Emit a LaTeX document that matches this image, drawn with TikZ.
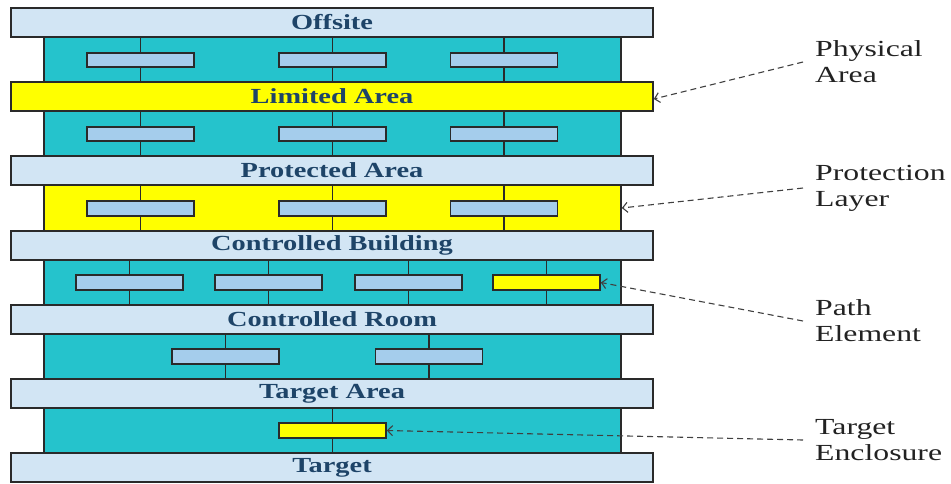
\documentclass[tikz,border=0pt]{standalone}
\usepackage{fontspec}
\usetikzlibrary{arrows.meta}
\newfontfamily\bandfont[FakeStretch=1.32]{Liberation Serif}
\newfontfamily\labfont[FakeStretch=1.38]{Liberation Serif}
\definecolor{bandblue}{HTML}{D2E5F4}
\definecolor{tealc}{HTML}{25C3CC}
\definecolor{elemblue}{HTML}{A5CDEC}
\definecolor{bordc}{HTML}{2A2A2A}
\definecolor{textblue}{HTML}{1E4468}
\definecolor{yel}{HTML}{FFFF00}
\definecolor{arrc}{HTML}{404040}
\definecolor{labc}{HTML}{222222}
\begin{document}
\begin{tikzpicture}[x=1pt,y=-1pt,
  band/.style={draw=bordc, line width=1.6pt, fill=bandblue, minimum width=642pt, minimum height=29pt, inner sep=0pt,
    font=\bandfont\bfseries\fontsize{21.5}{21.5}\selectfont, text=textblue},
  layer/.style={draw=bordc, line width=1.6pt, fill=tealc, minimum width=577pt, minimum height=45pt, inner sep=0pt},
  elem/.style={draw=bordc, line width=1.6pt, fill=elemblue, minimum width=107pt, minimum height=14.5pt, inner sep=0pt},
  vline/.style={draw=bordc, line width=1.6pt},
  lab/.style={anchor=west, align=left, inner xsep=12pt, inner ysep=0pt, text=labc,
    font=\labfont\fontsize{23}{26}\selectfont},
  callout/.style={draw=arrc, line width=1.1pt, dash pattern=on 6pt off 4pt, -{Straight Barb[length=5pt,width=10pt]}}
]
\useasboundingbox (0,0) rectangle (951,483);

% layers
\node[layer] (L1) at (332.5,59.5) {};
\node[layer] (L2) at (332.5,133.5) {};
\node[layer, fill=yel, minimum height=46pt] (L3) at (332.5,208) {};
\node[layer] (L4) at (332.5,282.5) {};
\node[layer] (L5) at (332.5,356.5) {};
\node[layer] (L6) at (332.5,430.5) {};

% elements
\foreach \l/\yy in {1/60,2/134,3/208.5}{
  \node[elem] (e\l a) at (140.5,\yy) {};
  \node[elem] (e\l b) at (332.5,\yy) {};
  \node[elem] (e\l c) at (504,\yy) {};
  \foreach \k in {a,b,c}{
    \draw[vline] (e\l\k.north) -- (e\l\k.north |- L\l.north);
    \draw[vline] (e\l\k.south) -- (e\l\k.south |- L\l.south);
  }
}
\node[elem] (e4a) at (129.5,282.5) {};
\node[elem] (e4b) at (268.5,282.5) {};
\node[elem] (e4c) at (408.5,282.5) {};
\node[elem, fill=yel] (e4d) at (546.5,282.5) {};
\foreach \k in {a,b,c,d}{
  \draw[vline] (e4\k.north) -- (e4\k.north |- L4.north);
  \draw[vline] (e4\k.south) -- (e4\k.south |- L4.south);
}
\node[elem] (e5a) at (225.5,356.5) {};
\node[elem] (e5b) at (429,356.5) {};
\foreach \k in {a,b}{
  \draw[vline] (e5\k.north) -- (e5\k.north |- L5.north);
  \draw[vline] (e5\k.south) -- (e5\k.south |- L5.south);
}
\node[elem, fill=yel] (e6a) at (332.5,430.5) {};
\draw[vline] (e6a.north) -- (e6a.north |- L6.north);
\draw[vline] (e6a.south) -- (e6a.south |- L6.south);

% bands
\node[band] (B1) at (332,22.5) {Offsite};
\node[band, fill=yel] (B2) at (332,96.5) {Limited Area};
\node[band] (B3) at (332,170.5) {Protected Area};
\node[band] (B4) at (332,245.5) {Controlled Building};
\node[band] (B5) at (332,319.5) {Controlled Room};
\node[band] (B6) at (332,393.5) {Target Area};
\node[band] (B7) at (332,467.5) {Target};

% labels
\node[lab] (t1) at (803,62) {Physical\\Area};
\node[lab] (t2) at (803,188) {Protection\\Layer};
\node[lab] (t3) at (803,321) {Path\\Element};
\node[lab] (t4) at (803,440) {Target\\Enclosure};

\draw[callout] (t1.west) -- ([yshift=-2.5pt]B2.east);
\draw[callout] (t2.west) -- (L3.east);
\draw[callout] (t3.west) -- (e4d.east);
\draw[callout] (t4.west) -- (e6a.east);
\end{tikzpicture}
\end{document}
